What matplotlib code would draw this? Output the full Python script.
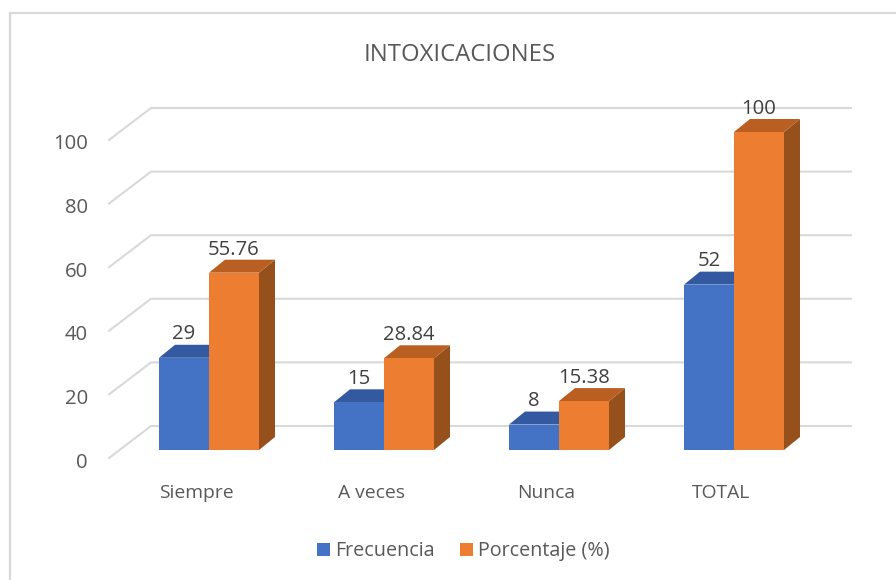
import matplotlib
matplotlib.use("Agg")
import matplotlib.pyplot as plt
from matplotlib.patches import Polygon, Rectangle

categories = ["Siempre", "A veces", "Nunca", "TOTAL"]
frecuencia = [29, 15, 8, 52]
porcentaje = [55.76, 28.84, 15.38, 100]
freq_labels = ["29", "15", "8", "52"]
pct_labels = ["55.76", "28.84", "15.38", "100"]
y_ticks = [0, 20, 40, 60, 80, 100]
title = "INTOXICACIONES"
series_names = ["Frecuencia", "Porcentaje (%)"]

W, H = 896, 580
plt.rcParams["font.family"] = ["Open Sans", "DejaVu Sans"]
TXT = "#595959"
BLUE, BLUE_TOP = "#4472C4", "#335AA0"
ORANGE, ORANGE_TOP, ORANGE_SIDE = "#ED7D31", "#B85F21", "#96501C"
GRID = "#D9D9D9"

fig = plt.figure(figsize=(W / 100, H / 100), dpi=100, facecolor="white")
bg = fig.add_axes([0, 0, 1, 1])
bg.set_xlim(0, W); bg.set_ylim(H, 0); bg.axis("off")
bg.plot([10, 10, W], [H, 13, 13], color=GRID, lw=1.6, solid_joinstyle="miter")

# axes frame = front plane: one category = 175 px, one y unit = 3.18 px
left, right, top, bottom = 109, 809, 132, 450
ax = fig.add_axes([left / W, 1 - bottom / H, (right - left) / W, (bottom - top) / H])
ax.patch.set_alpha(0)
ax.axis("off")
ax.set_xlim(-100 / 175, 3 + 75 / 175)
ax.set_ylim(0, 100)
px_x, px_y = 1 / 175, 1 / 3.18

dx, dy = 16 * px_x, 13 * px_y        # bar depth
wx = 42 * px_x                       # wall offset, x
wy = 32 * px_y                       # wall offset, y
floor = -8 * px_y                    # front floor edge below the bars' base
x0, x1 = ax.get_xlim()
for v in y_ticks:
    ax.plot([x0, x0 + wx, x0 + wx + 700 * px_x],
            [v + floor, v + floor + wy, v + floor + wy],
            color=GRID, lw=1.5, clip_on=False, zorder=1, solid_joinstyle="miter")
    ax.text(x0 - 21 * px_x, v + floor - 4.5 * px_y, str(v), ha="right", va="center",
            fontsize=14.6, color=TXT, clip_on=False)

w = 50 * px_x

def bar3d(x, v, face, topc, side, z):
    ax.add_patch(Polygon([(x + w, 0), (x + w + dx, dy), (x + w + dx, v + dy), (x + w, v)],
                         fc=side, ec="none", zorder=z, clip_on=False))
    ax.add_patch(Polygon([(x, v), (x + dx, v + dy), (x + w + dx, v + dy), (x + w, v)],
                         fc=topc, ec="none", zorder=z, clip_on=False))
    ax.bar(x, v, width=w, align="edge", color=face, zorder=z + 0.5, clip_on=False)

for i, cat in enumerate(categories):
    bar3d(i - w, frecuencia[i], BLUE, BLUE_TOP, BLUE_TOP, 3)
    bar3d(i, porcentaje[i], ORANGE, ORANGE_TOP, ORANGE_SIDE, 4)
    ax.text(i - w / 2, frecuencia[i] + 13.5 * px_y, freq_labels[i],
            ha="center", va="bottom", fontsize=14.6, color="#404040", zorder=6, clip_on=False)
    ax.text(i + w / 2, porcentaje[i] + 13 * px_y, pct_labels[i],
            ha="center", va="bottom", fontsize=14.6, color="#404040", zorder=6, clip_on=False)
    ax.text(i - 13 * px_x, -43 * px_y, cat, ha="center", va="center",
            fontsize=13.9, color=TXT, clip_on=False)

bg.text(459.5, 55, title, ha="center", va="center", fontsize=17.2, color=TXT)

for sx, tx, color, name in [(317, 335, BLUE, series_names[0]), (460, 478, ORANGE, series_names[1])]:
    bg.add_patch(Rectangle((sx, 543), 13, 13, fc=color, ec="none"))
    bg.text(tx, 551, name, ha="left", va="center", fontsize=14.2, color=TXT)

fig.savefig("out.png", dpi=100, facecolor="white")
